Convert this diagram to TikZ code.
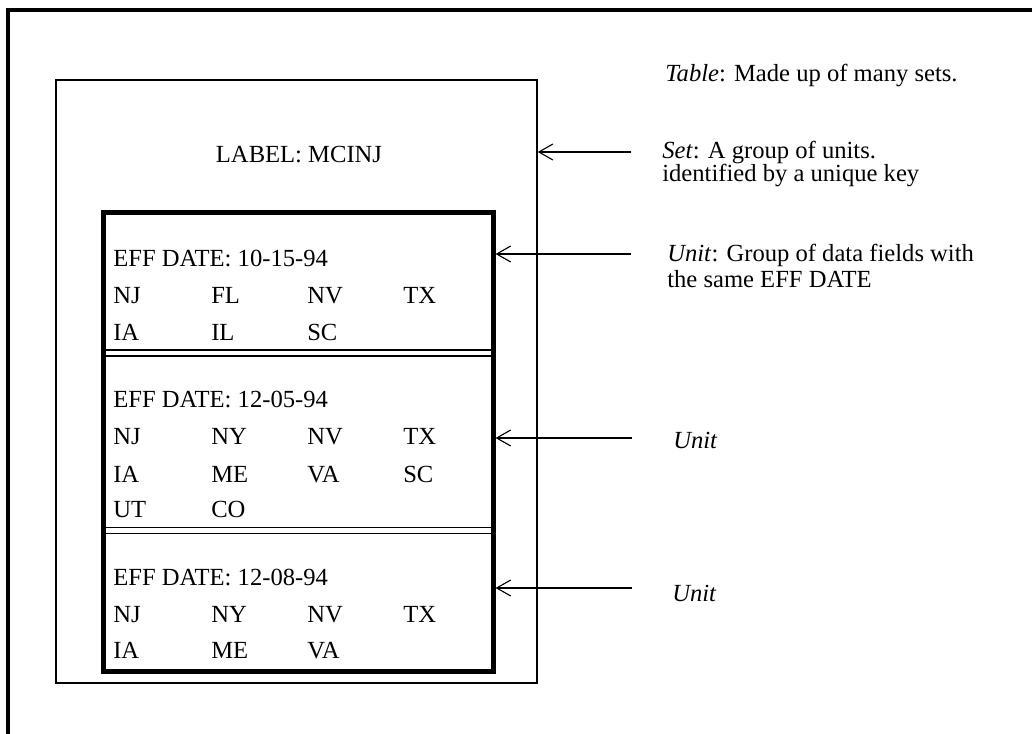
\documentclass[tikz,border=0pt]{standalone}
\usepackage{fontspec}
\setmainfont{Liberation Serif}
\usepackage{tikz}
\usetikzlibrary{positioning,arrows.meta}

\begin{document}
\begin{tikzpicture}[x=0.025cm,y=-0.025cm,
                    every node/.style={font=\fontsize{17.5}{18}\selectfont},
                    field/.style={anchor=base west,inner sep=0pt},
                    note/.style={anchor=base west,inner sep=0pt,align=left},
                    setbox/.style={draw,line width=1pt,inner sep=0pt,
                                   minimum width=12.025cm,minimum height=15.075cm},
                    unitbox/.style={draw,line width=3.6pt,inner sep=0pt,
                                    minimum width=9.725cm,minimum height=11.45cm},
                    divider/.style={double,double distance=3.4pt,line width=0.8pt},
                    pointer/.style={{Straight Barb[length=3.5mm,width=4mm]}-,line width=0.8pt}]
  \useasboundingbox (0,0) rectangle (1032,734);
  \draw[line width=2.4pt] (8,734) -- (8,10) -- (1032,10);

  \node[setbox] (set) at (296.5,381.5) {};
  \node[anchor=base] (setkey) at (299,163) {LABEL: MCINJ};

  \draw[divider] (104,353) -- (493,353);
  \draw[divider] (104,530.5) -- (493,530.5);
  \node[unitbox] (units) at (298.5,442) {};

  % unit 1
  \node[field] (effA) at (113,267) {EFF DATE: 10-15-94};
  \node[field] (njA) at (113,304) {NJ};
  \node[field] (flA) at (211,304) {FL};
  \node[field] (nvA) at (307,304) {NV};
  \node[field] (txA) at (403,304) {TX};
  \node[field] (iaA) at (113,341) {IA};
  \node[field] (ilA) at (211,341) {IL};
  \node[field] (scA) at (307,341) {SC};

  % unit 2
  \node[field] (effB) at (113,407) {EFF DATE: 12-05-94};
  \node[field] (njB) at (113,445) {NJ};
  \node[field] (nyB) at (211,445) {NY};
  \node[field] (nvB) at (307,445) {NV};
  \node[field] (txB) at (403,445) {TX};
  \node[field] (iaB) at (113,482) {IA};
  \node[field] (meB) at (211,482) {ME};
  \node[field] (vaB) at (307,482) {VA};
  \node[field] (scB) at (403,482) {SC};
  \node[field] (utB) at (113,517) {UT};
  \node[field] (coB) at (211,517) {CO};

  % unit 3
  \node[field] (effC) at (113,585) {EFF DATE: 12-08-94};
  \node[field] (njC) at (113,622) {NJ};
  \node[field] (nyC) at (211,622) {NY};
  \node[field] (nvC) at (307,622) {NV};
  \node[field] (txC) at (403,622) {TX};
  \node[field] (iaC) at (113,658) {IA};
  \node[field] (meC) at (211,658) {ME};
  \node[field] (vaC) at (307,658) {VA};

  % notes on the right (base = last line)
  \node[note] (tablenote) at (665,82) {\textit{Table}: Made up of many sets.};
  \node[note,font=\fontsize{17.5}{17}\selectfont] (setnote) at (662,182)
       {\textit{Set}: A group of units.\\identified by a unique key};
  \node[note,font=\fontsize{17.5}{18.5}\selectfont] (unitnote) at (667,288)
       {\textit{Unit}: Group of data fields with\\the same EFF DATE};
  \node[note] (unitnoteb) at (673,448) {\textit{Unit}};
  \node[note] (unitnotec) at (672,601) {\textit{Unit}};

  \coordinate (setsrc)    at (631,152);
  \coordinate (unitsrc)   at (631,254);
  \coordinate (unitsrcb)  at (632,438);
  \coordinate (unitsrcc)  at (632,588);
  \draw[pointer] (set.east |- setsrc)     -- (setsrc);
  \draw[pointer] (units.east |- unitsrc)  -- (unitsrc);
  \draw[pointer] (units.east |- unitsrcb) -- (unitsrcb);
  \draw[pointer] (units.east |- unitsrcc) -- (unitsrcc);
\end{tikzpicture}
\end{document}
